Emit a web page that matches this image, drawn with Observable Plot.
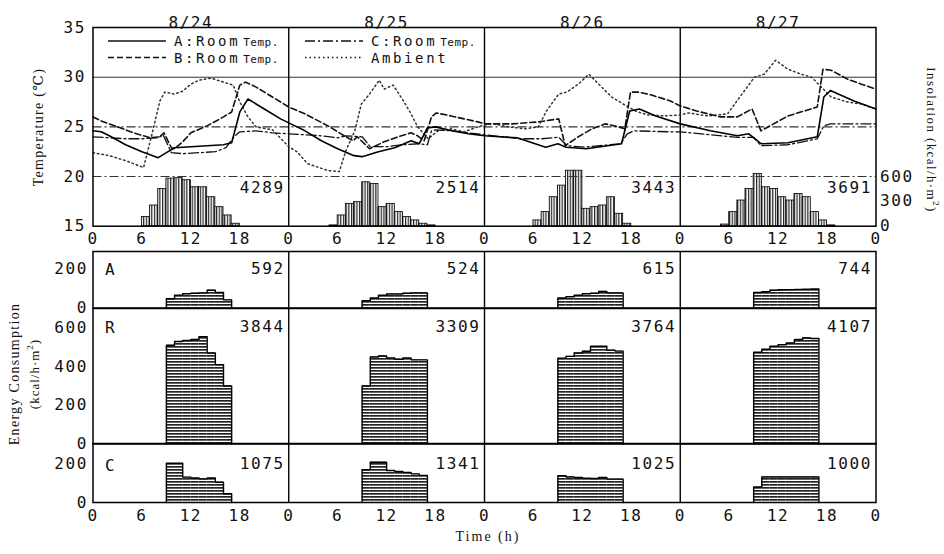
<!DOCTYPE html>
<html>
<head>
<meta charset="utf-8">
<script src="https://cdn.jsdelivr.net/npm/d3@7"></script>
<script src="https://cdn.jsdelivr.net/npm/@observablehq/plot@0.6"></script>
<style>
  body { margin: 0; background: #fff; }
  #wrap { position: relative; width: 944px; height: 554px; overflow: hidden; background: #fff; }
  .title { position: absolute; font-family: "Liberation Serif", "DejaVu Serif", serif; color: #111; white-space: nowrap; transform: translate(-50%, -50%); }
</style>
</head>
<body>
<svg width="0" height="0" style="position:absolute">
  <defs>
    <pattern id="vhatch" patternUnits="userSpaceOnUse" width="2.7" height="4">
      <rect width="2.7" height="4" fill="#fff"/><rect width="1.2" height="4" fill="#222"/>
    </pattern>
    <pattern id="hhatch" patternUnits="userSpaceOnUse" width="4" height="3">
      <rect width="4" height="3" fill="#fff"/><rect width="4" height="1.7" fill="#222"/>
    </pattern>
  </defs>
</svg>
<div id="wrap"></div>
<script>
// ---------------- data ----------------
const days = ["8/24", "8/25", "8/26", "8/27"];
const xTicks = [0, 6, 12, 18, 24, 30, 36, 42, 48, 54, 60, 66, 72, 78, 84, 90, 96];
const tempTicks = [15, 20, 25, 30, 35];
const insolTicks = [0, 300, 600];
const energyTicksSmall = [0, 200];
const energyTicksR = [0, 200, 400, 600];

// [hour since 8/24 0:00, temperature °C]
const roomA = [[0,24.6],[1,24.5],[2,24.1],[4,23.2],[6,22.5],[8,21.9],[9,22.4],[10,22.9],[12,23.0],[14,23.1],[16,23.2],[17,23.4],[18,26.5],[19,27.8],[21,26.8],[23,25.8],
  [24,25.4],[26,24.6],[28,23.6],[30,22.8],[32,22.1],[33,22.0],[35,22.5],[37,22.9],[39,23.6],[40,23.3],[41,24.9],[42,25.0],[44,24.6],[46,24.3],
  [48,24.1],[52,23.9],[55.5,22.95],[57,23.3],[58,22.95],[60.5,22.8],[64.8,23.3],[65.8,26.6],[67,26.8],[69,26.1],
  [72,25.3],[75.7,24.6],[79,24.1],[80.4,24.3],[81.9,23.3],[85.2,23.4],[88.8,24.0],[89.6,28.0],[90.4,28.65],[93.3,27.6],[96,26.8]];
const roomB = [[0,26.0],[1,25.6],[3,25.0],[5,24.4],[7,23.9],[8.2,24.0],[8.7,24.4],[9.6,22.9],[10,22.8],[11,23.5],[12,24.4],[14,25.1],[16,26.0],[17,26.5],[18,29.2],[18.7,29.5],[20,29.0],[22,28.0],
  [24,27.0],[26,26.3],[28.8,25.1],[30.8,24.1],[31.9,23.6],[32.4,24.0],[33.9,22.8],[35.7,23.5],[37.4,24.0],[39,24.4],[39.8,24.1],[40.6,23.6],[41.5,26.0],[42.1,26.4],[43.9,26.1],[45.5,25.8],[47.2,25.5],
  [48,25.3],[51.4,25.3],[54.6,25.5],[57.1,25.8],[57.9,23.1],[59.5,24.0],[61.2,24.8],[62.8,25.3],[64.4,25.0],[65.2,24.8],[65.9,28.5],[66.9,28.5],[68.5,28.2],[70.8,27.6],
  [72,27.1],[74,26.6],[76.9,26.0],[79,26.0],[80.8,26.8],[81.9,24.6],[85.2,26.1],[88.8,27.0],[89.5,30.8],[90.5,30.7],[92.5,29.8],[94.2,29.3],[96,28.8]];
const roomC = [[0,24.0],[2,23.9],[4,23.8],[6,23.8],[8,23.9],[8.6,24.2],[9.6,22.4],[11,22.3],[13,22.4],[15,22.5],[16.3,22.9],[17.3,24.0],[18,24.5],[20,24.6],[22,24.4],
  [24,24.3],[28,24.1],[30,23.9],[31,24.1],[33,24.0],[34,23.0],[36,23.0],[38,23.2],[40,23.3],[41,23.2],[41.5,24.6],[42,24.7],[44,24.6],[46,24.4],
  [48,24.2],[52.4,23.8],[55,23.8],[57.1,23.95],[58.1,23.1],[60.2,22.95],[64.7,23.3],[65.5,24.3],[66.3,24.6],[70.8,24.5],
  [72,24.5],[75.7,24.2],[79,23.95],[81,23.95],[81.9,23.1],[85.2,23.2],[88.8,23.8],[89.6,25.1],[90.4,25.3],[96,25.3]];
const ambient = [[0,22.4],[2,22.1],[4,21.6],[6.2,20.9],[7.3,24.5],[8.2,27.6],[8.8,28.5],[10,28.3],[11,28.6],[12,29.3],[13,29.7],[14.5,29.9],[16,29.5],[17.2,29.2],[18,27.5],[19,26.0],[20,25.0],[22,24.7],
  [24,23.0],[25,22.5],[26.3,21.3],[28.8,20.6],[30.2,20.5],[31,22.6],[32.1,24.6],[32.9,27.3],[33.9,28.3],[35.1,29.7],[35.7,28.8],[36.8,29.2],[38,27.7],[39,26.3],[39.8,25.0],[41.1,23.8],[42.3,24.6],[43.9,24.8],[45.5,24.5],[47.2,25.0],
  [48,25.2],[49,25.3],[51,25.0],[53,24.8],[54.6,25.0],[55.6,26.6],[57.1,28.3],[58.1,28.5],[59.5,29.3],[60.8,30.3],[62,29.3],[63.6,28.0],[65.2,27.2],[66.5,26.6],[68,26.2],[70,26.1],
  [72,26.2],[73,26.4],[75.4,26.1],[77.8,26.3],[79.3,28.0],[81.1,30.0],[82.3,30.3],[83.7,31.7],[85.2,30.8],[86.8,30.3],[88.1,30.0],[89.3,29.0],[90.5,28.0],[92.5,27.5],[94.2,27.3],[96,26.8]];

// hourly insolation (kcal/h·m²), hour-of-day start
const insolHours = [5, 6, 7, 8, 9, 10, 11, 12, 13, 14, 15, 16, 17, 18];
const insol0824 = [0, 110, 250, 450, 575, 580, 555, 470, 470, 350, 230, 130, 30, 0];
const insol0825 = [10, 130, 270, 290, 530, 510, 230, 270, 170, 110, 70, 30, 10, 0];
const insol0826 = [0, 70, 170, 350, 490, 670, 670, 210, 230, 250, 350, 150, 30, 0];
const insol0827 = [20, 170, 310, 450, 630, 470, 450, 350, 310, 390, 350, 170, 70, 10];
const insolTotals = [4289, 2514, 3443, 3691];

// hourly energy consumption (kcal/h·m²), one list per day
const energyHours = [9, 10, 11, 12, 13, 14, 15, 16];
const energyA = [[48,66,74,76,78,92,80,42], [38,52,66,72,72,76,78,78], [52,58,66,74,76,86,78,78], [80,84,92,94,95,96,97,98]];
const energyB = [[510,530,535,540,555,470,410,300], [300,450,455,445,438,445,435,435], [444,453,470,479,505,505,485,480], [474,490,505,513,522,540,548,545]];
const energyC = [[203,203,131,127,122,127,105,45], [169,208,208,165,160,155,148,140], [138,132,129,126,124,129,121,121], [80,132,132,132,132,132,132,132]];
const totalsA = [592, 524, 615, 744];
const totalsB = [3844, 3309, 3764, 4107];
const totalsC = [1075, 1341, 1025, 1000];
const panelNames = ["A", "R", "C"];
const legendLabels = ["A:Room", "B:Room", "C:Room", "Ambient"];

// ---------------- layout ----------------
const W = 944;
const mL = 92.5, mR = W - 875.5;
const MONO = '"DejaVu Sans Mono", "Liberation Mono", monospace';
const wrap = document.getElementById("wrap");
const baseStyle = {background: "transparent", overflow: "visible", fontFamily: MONO, fontSize: "16px", letterSpacing: "1.6px", color: "#111"};
function place(svg, top) {
  svg.style.position = "absolute";
  svg.style.left = "0px";
  svg.style.top = top + "px";
  wrap.appendChild(svg);
}
const pts = arr => arr.map(([t, v]) => ({t, v}));

// ---------------- top panel: insolation (right axis) ----------------
const topH = 250, topMT = 27, topMB = 24.3;
const frameTopH = topH - topMT - topMB;
const insolTop = 600 * frameTopH / 49.7;
const insolTable = [insol0824, insol0825, insol0826, insol0827].flatMap((vals, d) =>
  vals.map((v, i) => ({t0: d * 24 + insolHours[i], t1: d * 24 + insolHours[i] + 1, v}))).filter(r => r.v > 0);

const insolPlot = Plot.plot({
  width: W, height: topH, marginLeft: mL, marginRight: mR, marginTop: topMT, marginBottom: topMB,
  style: baseStyle,
  x: {domain: [0, 96], axis: null},
  y: {domain: [0, insolTop], axis: "right", ticks: insolTicks, tickSize: 0, tickPadding: 4, label: null},
  marks: [
    Plot.rectY(insolTable, {x1: "t0", x2: "t1", y: "v", fill: "url(#vhatch)", stroke: "#000", strokeWidth: 0.8}),
    Plot.text(insolTotals, {x: (d, i) => (i + 1) * 24, text: d => String(d), frameAnchor: "bottom", dy: -33, dx: -4, textAnchor: "end", fontSize: 16})
  ]
});
place(insolPlot, 0);

// ---------------- top panel: temperatures ----------------
const tempPlot = Plot.plot({
  width: W, height: topH, marginLeft: mL, marginRight: mR, marginTop: topMT, marginBottom: topMB,
  style: baseStyle,
  x: {domain: [0, 96], ticks: xTicks, tickFormat: h => h % 24, tickSize: 0, tickPadding: 6, label: null},
  y: {domain: [15, 35], ticks: tempTicks, tickSize: 0, tickPadding: 7, label: null},
  marks: [
    Plot.ruleY([30], {stroke: "#333", strokeWidth: 1.1}),
    Plot.ruleY([20, 25], {stroke: "#333", strokeWidth: 1.1, strokeDasharray: "9,3,2,3"}),
    Plot.ruleX([24, 48, 72], {stroke: "#000", strokeWidth: 1.4}),
    Plot.line(pts(ambient), {x: "t", y: "v", stroke: "#333", strokeWidth: 1.5, strokeDasharray: "1.5,3"}),
    Plot.line(pts(roomC), {x: "t", y: "v", stroke: "#111", strokeWidth: 1.3, strokeDasharray: "10,3,2,3"}),
    Plot.line(pts(roomB), {x: "t", y: "v", stroke: "#111", strokeWidth: 1.6, strokeDasharray: "6,3"}),
    Plot.line(pts(roomA), {x: "t", y: "v", stroke: "#000", strokeWidth: 1.6}),
    Plot.frame({stroke: "#000", strokeWidth: 1.5}),
    Plot.text(days, {x: (d, i) => i * 24 + 12, text: d => d, frameAnchor: "top", dy: -11, fontSize: 16})
  ]
});
place(tempPlot, 0);

// ---------------- legend ----------------
const leg = d3.create("svg").attr("width", W).attr("height", 80)
  .style("position", "absolute").style("left", "0px").style("top", "0px").style("overflow", "visible");
const legendStyles = [
  {x: 108, y: 41, dash: null, w: 1.6},
  {x: 108, y: 57.5, dash: "6,3", w: 1.6},
  {x: 305, y: 41, dash: "10,3,2,3", w: 1.3},
  {x: 305, y: 57.5, dash: "1.5,3", w: 1.5}
];
legendLabels.forEach((lab, i) => {
  const s = legendStyles[i];
  leg.append("line").attr("x1", s.x).attr("x2", s.x + 58).attr("y1", s.y).attr("y2", s.y)
    .attr("stroke", "#111").attr("stroke-width", s.w).attr("stroke-dasharray", s.dash);
  const t = leg.append("text").attr("x", s.x + 66).attr("y", s.y + 5)
    .attr("font-family", MONO).attr("font-size", 14).attr("letter-spacing", "2.6px").attr("fill", "#111").text(lab);
  if (lab.endsWith("Room")) t.append("tspan").attr("font-size", 11).attr("letter-spacing", "0.5px").attr("dx", 3).text("Temp.");
});
wrap.appendChild(leg.node());

// ---------------- energy panels ----------------
const PX = 0.1935;
function energyRects(list) {
  return list.flatMap((vals, d) => vals.map((v, i) => ({t0: d * 24 + energyHours[i], t1: d * 24 + energyHours[i] + 1, v})));
}
function energyOutline(list) {
  return list.flatMap((vals, d) => {
    const start = d * 24 + energyHours[0];
    const end = d * 24 + energyHours[energyHours.length - 1] + 1;
    const out = [{t: start, v: 0, d}];
    vals.forEach((v, i) => out.push({t: d * 24 + energyHours[i], v, d}));
    out.push({t: end, v: vals[vals.length - 1], d});
    out.push({t: end, v: 0, d});
    return out;
  });
}
function energyPanel({list, totals, name, frameTop, frameBottom, ticks, xAxis, nameDy, totDy}) {
  const fh = frameBottom - frameTop;
  const mT = 10, mB = xAxis ? 40 : 10;
  const svg = Plot.plot({
    width: W, height: fh + mT + mB, marginLeft: mL, marginRight: mR, marginTop: mT, marginBottom: mB,
    style: baseStyle,
    x: xAxis ? {domain: [0, 96], ticks: xTicks, tickFormat: h => h % 24, tickSize: 0, tickPadding: 7, label: null}
             : {domain: [0, 96], axis: null},
    y: {domain: [0, fh / PX], ticks, tickSize: 0, tickPadding: 5, label: null},
    marks: [
      Plot.rectY(energyRects(list), {x1: "t0", x2: "t1", y: "v", fill: "url(#hhatch)"}),
      Plot.line(energyOutline(list), {x: "t", y: "v", z: "d", curve: "step-after", stroke: "#000", strokeWidth: 1.4}),
      Plot.ruleX([24, 48, 72], {stroke: "#000", strokeWidth: 1.4}),
      Plot.frame({stroke: "#000", strokeWidth: 1.5}),
      Plot.text([name], {text: d => d, frameAnchor: "top-left", dx: 12, dy: nameDy, textAnchor: "start", fontSize: 16}),
      Plot.text(totals, {x: (d, i) => (i + 1) * 24, text: d => String(d), frameAnchor: "top", dx: -4, dy: totDy, textAnchor: "end", fontSize: 16})
    ]
  });
  place(svg, frameTop - mT);
}
energyPanel({list: energyA, totals: totalsA, name: panelNames[0], frameTop: 251, frameBottom: 307.5, ticks: energyTicksSmall, xAxis: false, nameDy: 12, totDy: 11});
energyPanel({list: energyB, totals: totalsB, name: panelNames[1], frameTop: 307.5, frameBottom: 443, ticks: energyTicksR, xAxis: false, nameDy: 13, totDy: 12.5});
energyPanel({list: energyC, totals: totalsC, name: panelNames[2], frameTop: 443, frameBottom: 502, ticks: energyTicksSmall, xAxis: true, nameDy: 16, totDy: 14});

// ---------------- titles ----------------
function title(text, cx, cy, rot, size, spacing) {
  const div = document.createElement("div");
  div.className = "title";
  div.style.left = cx + "px";
  div.style.top = cy + "px";
  div.style.fontSize = size + "px";
  div.style.letterSpacing = spacing + "px";
  div.style.transform = `translate(-50%, -50%) rotate(${rot}deg)`;
  div.innerHTML = text;
  wrap.appendChild(div);
}
title("Temperature (℃)", 38, 127, -90, 14, 1.3);
title("Insolation (kcal/h·m<sup style='font-size:9px'>2</sup>)", 932, 140, 90, 13, 1.4);
title("Energy Consumption", 15, 374, -90, 14, 1.3);
title("(kcal/h·m<sup style='font-size:9px'>2</sup>)", 34, 374, -90, 13, 1);
title("Time (h)", 488, 537, 0, 14, 2);
</script>
</body>
</html>
